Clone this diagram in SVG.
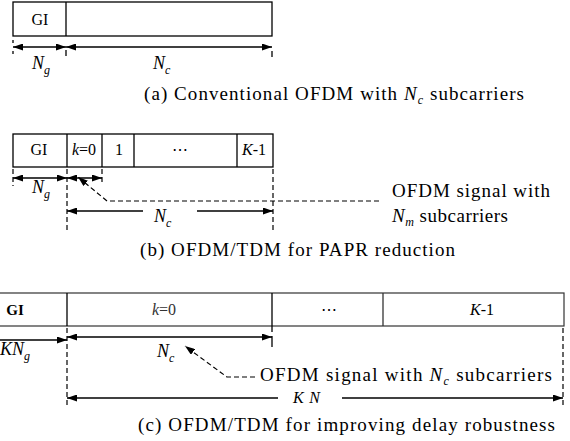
<svg xmlns="http://www.w3.org/2000/svg" width="570" height="441" viewBox="0 0 570 441" font-family="Liberation Serif, Times New Roman, DejaVu Serif, serif">
<style>
text{font-family:'Liberation Serif','Times New Roman','DejaVu Serif',serif;fill:#000}
.cap{font-size:19px}
.cell{font-size:16px;text-anchor:middle}
.lab{font-size:18px;font-style:italic}
.sub{font-size:12px;font-style:italic}
.box{fill:#fff;stroke:#000;stroke-width:1.3}
.div{stroke:#000;stroke-width:1.3}
.arr{stroke:#000;stroke-width:1.3;fill:none}
.dash{stroke:#000;stroke-width:1.2;fill:none;stroke-dasharray:5,3}
.it{font-style:italic}
.s{font-size:12px;font-style:italic}
</style>
<defs>
<marker id="ah" viewBox="0 0 10 7" refX="10" refY="3.5" markerWidth="10" markerHeight="7" markerUnits="userSpaceOnUse" orient="auto-start-reverse">
<path d="M0,0 L10,3.5 L0,7 Z" fill="#000"/>
</marker>
</defs>

<g id="frame-a">
<rect class="box" x="13" y="2" width="259" height="34"/>
<line class="div" x1="66" y1="2" x2="66" y2="36"/>
<text class="cell" x="40" y="25">GI</text>
</g>

<g id="frame-b">
<rect class="box" x="13" y="134" width="260" height="33"/>
<line class="div" x1="67" y1="134" x2="67" y2="167"/>
<line class="div" x1="102" y1="134" x2="102" y2="167"/>
<line class="div" x1="134" y1="134" x2="134" y2="167"/>
<line class="div" x1="237" y1="134" x2="237" y2="167"/>
<text class="cell" x="39" y="155">GI</text>
<text class="cell" x="84" y="155"><tspan class="it">k</tspan>=0</text>
<text class="cell" x="119" y="155">1</text>
<text class="cell" x="180" y="155">⋯</text>
<text class="cell" x="254" y="155"><tspan class="it">K</tspan>-1</text>
</g>

<g id="frame-c">
<rect class="box" x="-2" y="293" width="566" height="33" style="stroke:#333;stroke-width:1.2"/>
<line class="div" x1="67" y1="293" x2="67" y2="326"/>
<line class="div" x1="272" y1="293" x2="272" y2="332"/>
<line class="div" x1="383" y1="293" x2="383" y2="326" style="stroke:#333"/>
<text class="cell" x="15" y="315" style="font-weight:bold;font-size:15px">GI</text>
<text class="cell" x="164" y="315" style="fill:#333"><tspan class="it">k</tspan>=0</text>
<text class="cell" x="329" y="315">⋯</text>
<text class="cell" x="482" y="315"><tspan class="it">K</tspan>-1</text>
</g>

<g id="connectors">
<line class="arr" x1="13" y1="47" x2="66" y2="47" marker-start="url(#ah)" marker-end="url(#ah)"/>
<line class="arr" x1="66" y1="47" x2="272" y2="47" marker-start="url(#ah)" marker-end="url(#ah)"/>
<line class="arr" x1="13" y1="40" x2="13" y2="43"/>
<line class="arr" x1="13" y1="51" x2="13" y2="54"/>
<line class="arr" x1="66" y1="50" x2="66" y2="56"/>
<line class="arr" x1="272" y1="51" x2="272" y2="57"/>
<line class="arr" x1="13" y1="178" x2="67" y2="178" marker-start="url(#ah)" marker-end="url(#ah)"/>
<line class="arr" x1="67" y1="178" x2="102" y2="178" marker-start="url(#ah)" marker-end="url(#ah)"/>
<line class="dash" x1="13" y1="169" x2="13" y2="186"/>
<line class="dash" x1="67" y1="169" x2="67" y2="232"/>
<line class="dash" x1="102" y1="169" x2="102" y2="184"/>
<line class="dash" x1="273" y1="169" x2="273" y2="232"/>
<line class="arr" x1="67" y1="211" x2="143" y2="211" marker-start="url(#ah)"/>
<line class="arr" x1="197" y1="211" x2="273" y2="211" marker-end="url(#ah)"/>
<polyline class="dash" points="379,201 107,201 78,177" marker-end="url(#ah)"/>
<line class="arr" x1="-2" y1="340" x2="67" y2="340" marker-end="url(#ah)"/>
<line class="arr" x1="67" y1="337" x2="272" y2="337" marker-start="url(#ah)" marker-end="url(#ah)"/>
<line class="arr" x1="272" y1="336" x2="272" y2="347"/>
<line class="dash" x1="67" y1="328" x2="67" y2="407"/>
<line class="dash" x1="563" y1="328" x2="563" y2="407"/>
<polyline class="dash" points="255,377 227,377 185,346" marker-end="url(#ah)"/>
<line class="arr" x1="67" y1="398" x2="278" y2="398" marker-start="url(#ah)"/>
<line class="arr" x1="342" y1="398" x2="563" y2="398" marker-end="url(#ah)"/>
</g>

<g id="labels">
<text class="lab" x="32" y="69">N<tspan class="sub" dy="5">g</tspan></text>
<text class="lab" x="153" y="69">N<tspan class="sub" dy="5">c</tspan></text>
<text class="cap" x="144" y="100" textLength="380">(a) Conventional OFDM with <tspan class="it">N</tspan><tspan class="s" dy="4">c</tspan><tspan dy="-4"> subcarriers</tspan></text>

<text class="lab" x="32" y="193">N<tspan class="sub" dy="5">g</tspan></text>
<text class="lab" x="154" y="222">N<tspan class="sub" dy="5">c</tspan></text>
<text class="cap" x="392" y="197" textLength="158">OFDM signal with</text>
<text class="cap" x="392" y="222" textLength="116"><tspan class="it">N</tspan><tspan class="s" dy="4">m</tspan><tspan dy="-4"> subcarriers</tspan></text>
<text class="cap" x="140" y="256" textLength="315">(b) OFDM/TDM for PAPR reduction</text>

<text class="lab" x="0" y="355">KN<tspan class="sub" dy="5">g</tspan></text>
<text class="lab" x="157" y="357">N<tspan class="sub" dy="5">c</tspan></text>
<text class="cap" x="260" y="381" textLength="292">OFDM signal with <tspan class="it">N</tspan><tspan class="s" dy="4">c</tspan><tspan dy="-4"> subcarriers</tspan></text>
<text class="lab" x="293" y="403" style="font-size:16px" textLength="27">KN</text>
<text class="cap" x="138" y="431" textLength="417">(c) OFDM/TDM for improving delay robustness</text>
</g>
</svg>
